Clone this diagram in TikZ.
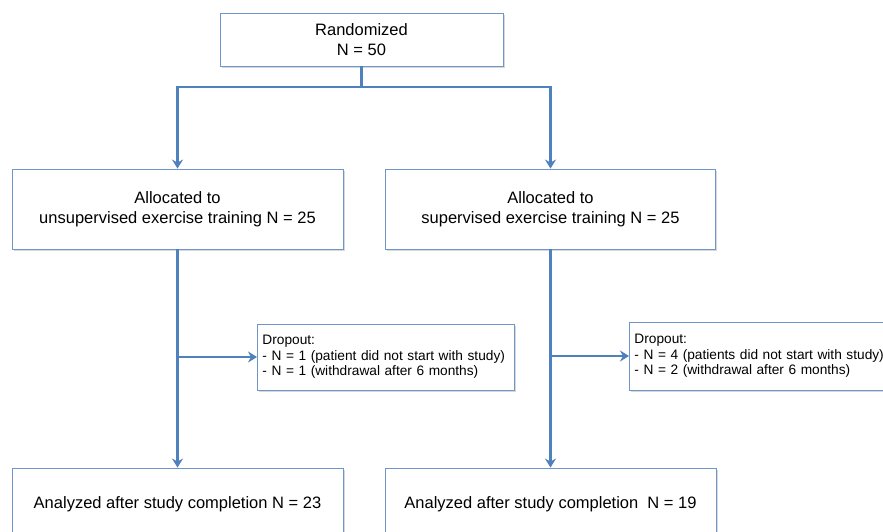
\documentclass[tikz,border=0pt]{standalone}
\usepackage{fontspec}
\setmainfont{Liberation Sans}
\usetikzlibrary{arrows.meta,shadows}
\definecolor{flowblue}{RGB}{79,129,189}
\definecolor{edgeblue}{RGB}{110,150,200}
\tikzset{
	box/.style={draw=edgeblue, line width=0.9pt, fill=white, align=center,
		drop shadow={shadow xshift=1.5pt, shadow yshift=-1.5pt, fill=black!30, opacity=0.5},
		font=\fontsize{16.5}{20}\selectfont, inner sep=0pt},
	dropbox/.style={box, align=left, anchor=west, inner xsep=5pt,
		font=\fontsize{13.7}{15.5}\selectfont},
	link/.style={draw=flowblue, line width=2.6pt},
	flow/.style={link, -{Stealth[length=9pt,width=11pt,inset=3pt]}}
}
\begin{document}
\begin{tikzpicture}[x=1pt,y=-1pt]
	\useasboundingbox[fill=white] (0,0) rectangle (883,531);
	\clip (0,0) rectangle (883,531);
	% boxes
	\node[box, minimum width=283, minimum height=53] (rand) at (361.5,39.5) {Randomized\\N = 50};
	\node[box, minimum width=331, minimum height=80] (unsup) at (177.5,209) {Allocated to\\unsupervised exercise training N = 25};
	\node[box, minimum width=330, minimum height=80] (sup) at (550.5,209) {Allocated to\\supervised exercise training N = 25};
	\node[dropbox, text width=247, minimum height=66] (dropA) at (257,357) {Dropout:\\- N = 1 (patient did not start with study)\\- N = 1 (withdrawal after 6 months)};
	\node[dropbox, text width=262, minimum height=68] (dropB) at (629,356) {Dropout:\\- N = 4 (patients did not start with study)\\- N = 2 (withdrawal after 6 months)};
	\node[box, minimum width=331, minimum height=72] (anaA) at (177.5,504) {Analyzed after study completion N = 23};
	\node[box, minimum width=331, minimum height=72] (anaB) at (550.5,504) {Analyzed after study completion\ \ N = 19};
	% connectors
	\coordinate (split) at (361.5,87);
	\coordinate (branchA) at (unsup.south |- dropA.west);
	\coordinate (branchB) at (sup.south |- dropB.west);
	\draw[link] (rand.south) -- (split);
	\draw[flow] (split) -| (unsup.north);
	\draw[flow] (split) -| (sup.north);
	\draw[flow] (unsup.south) -- (anaA.north);
	\draw[flow] (sup.south) -- (anaB.north);
	\draw[flow] (branchA) -- (dropA.west);
	\draw[flow] (branchB) -- (dropB.west);
\end{tikzpicture}
\end{document}
